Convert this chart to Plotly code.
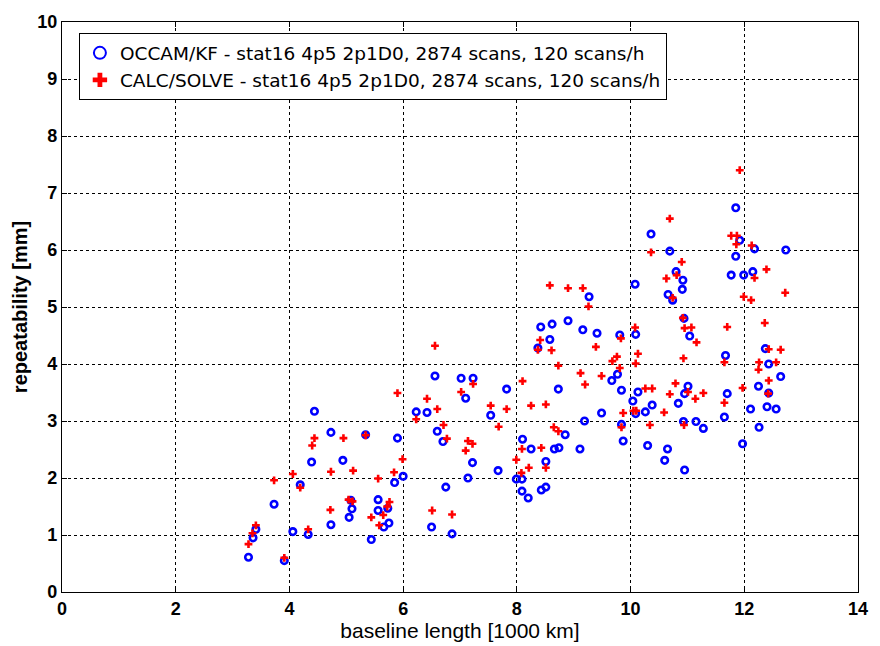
import plotly.graph_objects as go

# OCCAM/KF (blue circles)
occam_x = [4.44, 4.73, 5.34, 5.90, 6.23, 6.42, 6.60, 6.70, 4.39, 4.94, 4.19, 3.73, 6.00, 5.85, 6.75,
           3.41, 3.36, 3.28, 3.91, 4.06, 4.33, 4.73, 5.08, 5.10, 5.05, 5.56, 5.56, 5.73, 5.66, 5.75,
           5.44, 6.50,
           8.58, 8.37, 6.56, 7.02, 7.23, 7.10, 7.82, 8.73, 9.67, 9.77, 9.84, 10.13, 10.04, 10.09,
           7.54, 9.49, 9.19, 9.84, 8.85, 8.10, 8.25, 8.66, 8.74, 9.11, 9.87, 7.22, 8.51, 7.67,
           7.14, 7.99, 8.09, 8.09, 8.20, 8.43, 8.51, 6.86,
           10.08, 9.27, 8.42, 8.62, 8.90, 9.16, 9.41, 9.81, 10.09,
           11.85, 10.36, 11.92, 12.18, 12.73, 10.69, 11.85, 10.80, 10.92, 10.91, 10.66, 10.74,
           11.77, 11.99, 12.15, 10.94, 11.04, 12.37, 11.67, 12.43, 12.64, 11.01, 10.95, 10.84,
           10.38, 10.26, 11.70, 12.25, 12.43, 11.65, 12.11, 12.40, 12.56, 10.93, 11.15, 11.28,
           12.26, 10.30, 10.65, 11.97, 10.60, 10.95]
occam_y = [3.17, 2.80, 2.76, 2.70, 3.16, 3.15, 2.82, 2.64, 2.28, 2.31, 1.88, 1.54, 2.03, 1.92, 1.84,
           1.10, 0.95, 0.61, 0.55, 1.06, 1.01, 1.18, 1.61, 1.46, 1.31, 1.62, 1.43, 1.47, 1.14, 1.21,
           0.92, 1.14,
           4.43, 4.28, 3.79, 3.75, 3.75, 3.40, 3.56, 3.56, 3.71, 3.82, 3.54, 3.51, 3.35, 3.13,
           3.10, 3.14, 3.00, 2.94, 2.76, 2.68, 2.51, 2.51, 2.53, 2.51, 2.65, 2.27, 2.29, 2.13,
           2.00, 1.98, 1.98, 1.77, 1.65, 1.79, 1.84, 1.02,
           5.40, 5.18, 4.65, 4.70, 4.76, 4.60, 4.54, 4.51, 4.52,
           6.74, 6.28, 6.17, 6.02, 6.00, 5.98, 5.89, 5.62, 5.47, 5.31, 5.22, 5.12,
           5.56, 5.56, 5.62, 4.80, 4.49, 4.27, 4.15, 4.00, 3.78, 3.61, 3.48, 3.31,
           3.28, 3.16, 3.48, 3.61, 3.49, 3.07, 3.21, 3.25, 3.21, 2.99, 2.99, 2.87,
           2.89, 2.57, 2.51, 2.60, 2.31, 2.14]

# CALC/SOLVE (red crosses)
calc_x = [5.90, 6.42, 6.60, 6.23, 6.71, 4.44, 4.40, 4.95, 5.34, 5.99, 4.06, 3.73, 4.73, 5.12, 5.56,
          5.84, 4.19, 5.04, 5.11, 5.76, 5.72, 5.65, 5.44, 5.58, 4.72, 6.51, 3.41, 3.35, 3.28, 3.91,
          4.33,
          6.56, 8.41, 8.37, 8.61, 9.39, 9.83, 9.76, 9.68, 9.81, 10.09, 10.13, 8.73, 9.12, 9.49,
          9.20, 8.10, 7.23, 7.02, 7.54, 7.82, 8.25, 8.51, 9.87, 10.05, 10.10, 7.68, 8.65, 8.73,
          9.84, 6.77, 7.14, 7.22, 7.10, 8.09, 8.43, 7.99, 8.21, 8.51, 8.08, 6.86,
          8.58, 8.90, 9.16, 9.26, 10.08,
          11.92, 10.69, 10.36, 11.77, 11.87, 11.86, 12.13, 10.90, 10.63, 10.81, 10.74, 12.39,
          12.18, 12.72, 11.99, 12.12, 10.92, 10.95, 11.07, 11.16, 11.70, 12.36, 12.43, 12.64,
          10.93, 11.65, 12.26, 12.56, 12.25, 12.43, 10.79, 10.26, 10.38, 10.69, 11.01, 11.28,
          11.97, 12.42, 11.14, 11.65, 10.59, 10.34, 10.94]
calc_y = [3.49, 3.39, 3.21, 3.03, 2.93, 2.70, 2.57, 2.70, 2.75, 2.33, 2.07, 1.96, 2.11, 2.13, 1.99,
          2.10, 1.83, 1.62, 1.59, 1.58, 1.50, 1.35, 1.31, 1.17, 1.44, 1.43, 1.17, 1.03, 0.84, 0.60,
          1.10,
          4.32, 4.42, 4.25, 4.24, 4.30, 4.45, 4.13, 4.05, 3.93, 4.01, 4.18, 3.97, 3.84, 3.79,
          3.64, 3.70, 3.65, 3.51, 3.27, 3.21, 3.27, 3.29, 3.14, 3.18, 3.18, 2.90, 2.89, 2.82,
          2.89, 2.69, 2.65, 2.60, 2.48, 2.51, 2.53, 2.32, 2.18, 2.18, 2.09, 1.36,
          5.38, 5.33, 5.33, 5.01, 4.64,
          7.40, 6.55, 5.96, 6.25, 6.25, 6.10, 6.08, 5.79, 5.50, 5.56, 5.16, 5.66,
          5.51, 5.25, 5.18, 5.12, 4.81, 4.63, 4.64, 4.38, 4.65, 4.72, 4.26, 4.25,
          4.10, 4.03, 4.03, 4.03, 3.90, 3.71, 3.66, 3.57, 3.57, 3.47, 3.51, 3.49,
          3.58, 3.48, 3.39, 3.32, 3.15, 2.93, 2.93]

x_ticks = [0, 2, 4, 6, 8, 10, 12, 14]
y_ticks = [0, 1, 2, 3, 4, 5, 6, 7, 8, 9, 10]

FONT = "Liberation Sans, Arial, sans-serif"
TICKFONT = "Liberation Sans Narrow, Liberation Sans, Arial, sans-serif"
LEGFONT = "DejaVu Sans, Liberation Sans, sans-serif"

fig = go.Figure()
fig.add_trace(go.Scatter(
    x=occam_x, y=occam_y, mode="markers",
    name="OCCAM/KF - stat16 4p5 2p1D0, 2874 scans, 120 scans/h",
    marker=dict(symbol="circle-open", size=6.5, color="#0000ff", line=dict(width=2.6, color="#0000ff")),
))
fig.add_trace(go.Scatter(
    x=calc_x, y=calc_y, mode="markers",
    name="CALC/SOLVE - stat16 4p5 2p1D0, 2874 scans, 120 scans/h",
    marker=dict(symbol="cross", size=6.5, color="#ff0000", line=dict(width=0)),
))

axis_common = dict(
    showline=True, linecolor="black", linewidth=1.2, mirror="ticks",
    ticks="inside", ticklen=5, tickcolor="black",
    showgrid=True, gridcolor="black", griddash="dot", gridwidth=1,
    zeroline=False,
    tickfont=dict(family=TICKFONT, size=18, color="black", weight="bold"),
)

fig.update_xaxes(
    range=[0, 14], tickvals=x_ticks,
    title=dict(text="baseline length [1000 km]", font=dict(family=FONT, size=21, color="black"), standoff=0),
    **axis_common,
)
fig.update_yaxes(
    range=[0, 10], tickvals=y_ticks,
    title=dict(text="<b>repeatability [mm]</b>", font=dict(family=FONT, size=20, color="black"), standoff=4),
    **axis_common,
)

fig.update_layout(
    width=880, height=646,
    margin=dict(l=62, r=13, t=13, b=54),
    plot_bgcolor="white", paper_bgcolor="white",
    showlegend=True,
    legend=dict(
        x=0.021, y=0.9805, xanchor="left", yanchor="top",
        bgcolor="white", bordercolor="black", borderwidth=1.2,
        font=dict(family=LEGFONT, size=18.5, color="black"),
        itemsizing="constant", tracegroupgap=0, itemwidth=30,
    ),
)

fig.write_html("out.html")
